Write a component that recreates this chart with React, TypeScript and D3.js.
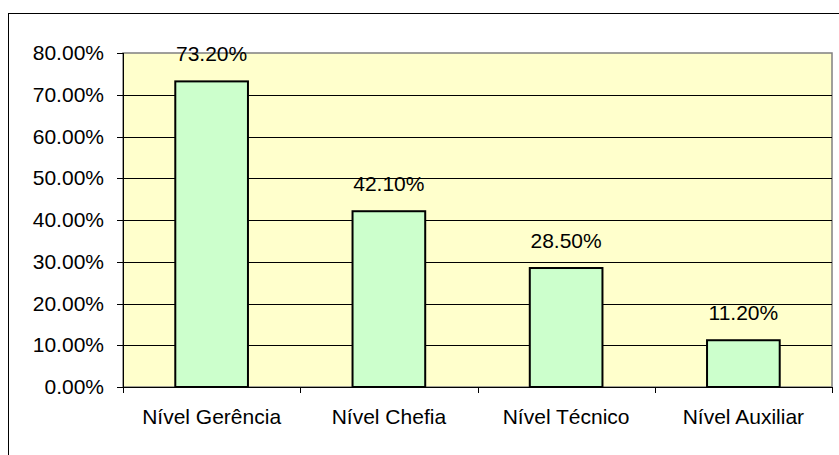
import React from "react";
import * as d3 from "d3";

const categories = ["Nível Gerência", "Nível Chefia", "Nível Técnico", "Nível Auxiliar"];
const values = [73.2, 42.1, 28.5, 11.2];
const yTicks = [0, 10, 20, 30, 40, 50, 60, 70, 80];

const W = 839;
const H = 455;
const plot = { left: 123, right: 832, top: 53, bottom: 387 };
const FONT = "'Liberation Sans', Arial, sans-serif";

export default function App() {
  const x = d3
    .scaleBand<string>()
    .domain(categories)
    .range([plot.left, plot.right])
    .paddingInner(0)
    .paddingOuter(0);
  const y = d3.scaleLinear().domain([0, 80]).range([plot.bottom, plot.top]);
  const bw = x.bandwidth() * 0.41;
  const boundaries = categories.map((c) => x(c)!).concat([plot.right]);

  return (
    <svg
      width={W}
      height={H}
      style={{ position: "fixed", left: 0, top: 0, background: "#fff" }}
      fontFamily={FONT}
    >
      <rect x={8.5} y={13.5} width={W} height={H} fill="#fff" stroke="#000" strokeWidth={1} />
      <rect
        x={plot.left}
        y={plot.top}
        width={plot.right - plot.left}
        height={plot.bottom - plot.top}
        fill="#FFFFCC"
        stroke="#808080"
        strokeWidth={1.5}
      />
      {yTicks.slice(1, -1).map((t) => (
        <line
          key={"g" + t}
          x1={plot.left}
          x2={plot.right}
          y1={Math.round(y(t)) + 0.5}
          y2={Math.round(y(t)) + 0.5}
          stroke="#000"
          strokeWidth={1}
        />
      ))}
      {categories.map((c, i) => {
        const cx = x(c)! + x.bandwidth() / 2;
        return (
          <g key={c}>
            <rect
              x={cx - bw / 2}
              y={y(values[i])}
              width={bw}
              height={y(0) - y(values[i])}
              fill="#CCFFCC"
              stroke="#000"
              strokeWidth={2}
            />
            <text x={cx} y={y(values[i]) - 20} textAnchor="middle" fontSize={21} fill="#000">
              {values[i].toFixed(2) + "%"}
            </text>
            <text x={cx} y={424} textAnchor="middle" fontSize={21} fill="#000">
              {c}
            </text>
          </g>
        );
      })}
      {/* axes */}
      <line x1={plot.left + 0.5} x2={plot.left + 0.5} y1={plot.top} y2={plot.bottom + 6} stroke="#000" strokeWidth={1} />
      <line x1={plot.left - 6} x2={plot.right} y1={plot.bottom + 0.5} y2={plot.bottom + 0.5} stroke="#000" strokeWidth={1} />
      {yTicks.map((t) => (
        <g key={"t" + t}>
          <line x1={plot.left - 6} x2={plot.left} y1={Math.round(y(t)) + 0.5} y2={Math.round(y(t)) + 0.5} stroke="#000" />
          <text x={104} y={y(t) + 7} textAnchor="end" fontSize={21} fill="#000">
            {t.toFixed(2) + "%"}
          </text>
        </g>
      ))}
      {boundaries.map((bx, i) => (
        <line key={"xt" + i} x1={Math.round(bx) + 0.5} x2={Math.round(bx) + 0.5} y1={plot.bottom} y2={plot.bottom + 6} stroke="#000" />
      ))}
    </svg>
  );
}
